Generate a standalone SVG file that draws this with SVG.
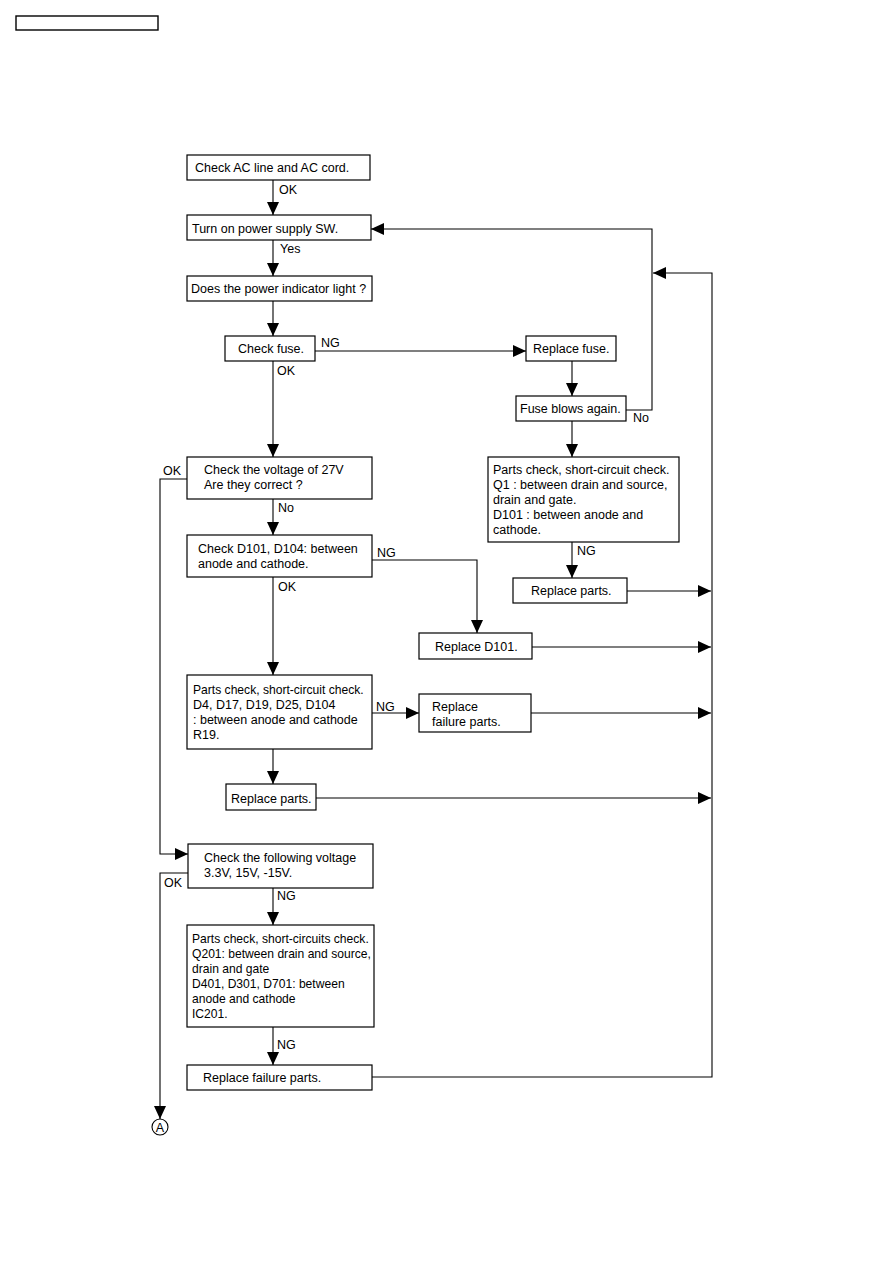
<svg xmlns="http://www.w3.org/2000/svg" width="893" height="1263" viewBox="0 0 893 1263">
<defs>
<marker id="ah" viewBox="0 0 13 12" refX="13" refY="6" markerWidth="13" markerHeight="12" markerUnits="userSpaceOnUse" orient="auto">
<path d="M0,0 L13,6 L0,12 Z" fill="#000"/>
</marker>
<style>
.box{fill:#fff;stroke:#000;stroke-width:1.2}
.t{font-family:"Liberation Sans",Arial,sans-serif;font-size:12.5px;fill:#000}
.s{font-size:12.1px}
.c{fill:none;stroke:#000;stroke-width:1.1}
.a{fill:none;stroke:#000;stroke-width:1.1;marker-end:url(#ah)}
</style>
</defs>
<rect width="893" height="1263" fill="#fff"/>
<rect x="16" y="16" width="142" height="14" fill="none" stroke="#000" stroke-width="1.4"/>

<g id="connectors">
<path class="a" d="M273,180 V215"/>
<path class="a" d="M273,240 V276"/>
<path class="a" d="M273,301 V336"/>
<path class="a" d="M315,351 H526"/>
<path class="a" d="M572,361 V396"/>
<path class="a" d="M626,410 H652 V229 H371"/>
<path class="a" d="M273,361 V457"/>
<path class="a" d="M572,421 V457"/>
<path class="a" d="M572,542 V578"/>
<path class="a" d="M273,499 V535"/>
<path class="a" d="M372,560 H477 V633"/>
<path class="a" d="M273,577 V675"/>
<path class="a" d="M372,713 H419"/>
<path class="a" d="M273,749 V784"/>
<path class="a" d="M627,591 H711"/>
<path class="a" d="M532,647 H711"/>
<path class="a" d="M531,713 H711"/>
<path class="a" d="M316,798 H711"/>
<path class="a" d="M187,479 H160 V854 H188"/>
<path class="a" d="M273,888 V925"/>
<path class="a" d="M273,1027 V1065"/>
<path class="a" d="M372,1077 H712 V273 H653"/>
<path class="a" d="M188,873 H160 V1119"/>
<text class="t" x="279" y="194">OK</text>
<text class="t" x="280" y="253">Yes</text>
<text class="t" x="321" y="347">NG</text>
<text class="t" x="277" y="375">OK</text>
<text class="t" x="633" y="422">No</text>
<text class="t" x="163" y="475">OK</text>
<text class="t" x="278" y="512">No</text>
<text class="t" x="377" y="557">NG</text>
<text class="t" x="278" y="591">OK</text>
<text class="t" x="577" y="555">NG</text>
<text class="t" x="376" y="711">NG</text>
<text class="t" x="164" y="887">OK</text>
<text class="t" x="277" y="900">NG</text>
<text class="t" x="277" y="1049">NG</text>
</g>

<g id="n1"><rect class="box" x="187" y="155" width="183" height="25"/><text class="t" x="195" y="172">Check AC line and AC cord.</text></g>
<g id="n2"><rect class="box" x="187" y="215" width="184" height="25"/><text class="t" x="192" y="233">Turn on power supply SW.</text></g>
<g id="n3"><rect class="box" x="187" y="276" width="185" height="25"/><text class="t" x="191" y="293">Does the power indicator light ?</text></g>
<g id="n4"><rect class="box" x="225" y="336" width="90" height="25"/><text class="t" x="238" y="353">Check fuse.</text></g>
<g id="n5"><rect class="box" x="526" y="336" width="90" height="25"/><text class="t" x="533" y="353">Replace fuse.</text></g>
<g id="n6"><rect class="box" x="516" y="396" width="110" height="25"/><text class="t" x="520" y="413">Fuse blows again.</text></g>
<g id="n7"><rect class="box" x="187" y="457" width="185" height="42"/><text class="t" x="204" y="474">Check the voltage of 27V</text><text class="t" x="204" y="489">Are they correct ?</text></g>
<g id="n8"><rect class="box" x="488" y="457" width="191" height="85"/>
<text class="t" x="493" y="474">Parts check, short-circuit check.</text>
<text class="t" x="493" y="489">Q1 : between drain and source,</text>
<text class="t" x="493" y="504">drain and gate.</text>
<text class="t" x="493" y="519">D101 : between anode and</text>
<text class="t" x="493" y="534">cathode.</text></g>
<g id="n9"><rect class="box" x="187" y="535" width="185" height="42"/><text class="t" x="198" y="553">Check D101, D104: between</text><text class="t" x="198" y="568">anode and cathode.</text></g>
<g id="n10"><rect class="box" x="513" y="578" width="114" height="25"/><text class="t" x="531" y="595">Replace parts.</text></g>
<g id="n11"><rect class="box" x="419" y="633" width="113" height="26"/><text class="t" x="435" y="651">Replace D101.</text></g>
<g id="n12"><rect class="box" x="187" y="675" width="185" height="74"/>
<text class="t s" x="193" y="694">Parts check, short-circuit check.</text>
<text class="t" x="193" y="709">D4, D17, D19, D25, D104</text>
<text class="t" x="193" y="724">: between anode and cathode</text>
<text class="t" x="193" y="739">R19.</text></g>
<g id="n13"><rect class="box" x="419" y="694" width="112" height="38"/><text class="t" x="432" y="711">Replace</text><text class="t" x="432" y="726">failure parts.</text></g>
<g id="n14"><rect class="box" x="226" y="784" width="90" height="26"/><text class="t" x="231" y="803">Replace parts.</text></g>
<g id="n15"><rect class="box" x="188" y="844" width="185" height="44"/><text class="t" x="204" y="862">Check the following voltage</text><text class="t" x="204" y="877">3.3V, 15V, -15V.</text></g>
<g id="n16"><rect class="box" x="187" y="925" width="187" height="102"/>
<text class="t s" x="192" y="943">Parts check, short-circuits check.</text>
<text class="t s" x="192" y="958">Q201: between drain and source,</text>
<text class="t s" x="192" y="973">drain and gate</text>
<text class="t s" x="192" y="988">D401, D301, D701: between</text>
<text class="t s" x="192" y="1003">anode and cathode</text>
<text class="t s" x="192" y="1018">IC201.</text></g>
<g id="n17"><rect class="box" x="187" y="1065" width="185" height="25"/><text class="t" x="203" y="1082">Replace failure parts.</text></g>
<g id="nA"><circle cx="160" cy="1127" r="8" fill="#fff" stroke="#000" stroke-width="1.1"/><text class="t" x="160" y="1131.5" text-anchor="middle">A</text></g>
</svg>
